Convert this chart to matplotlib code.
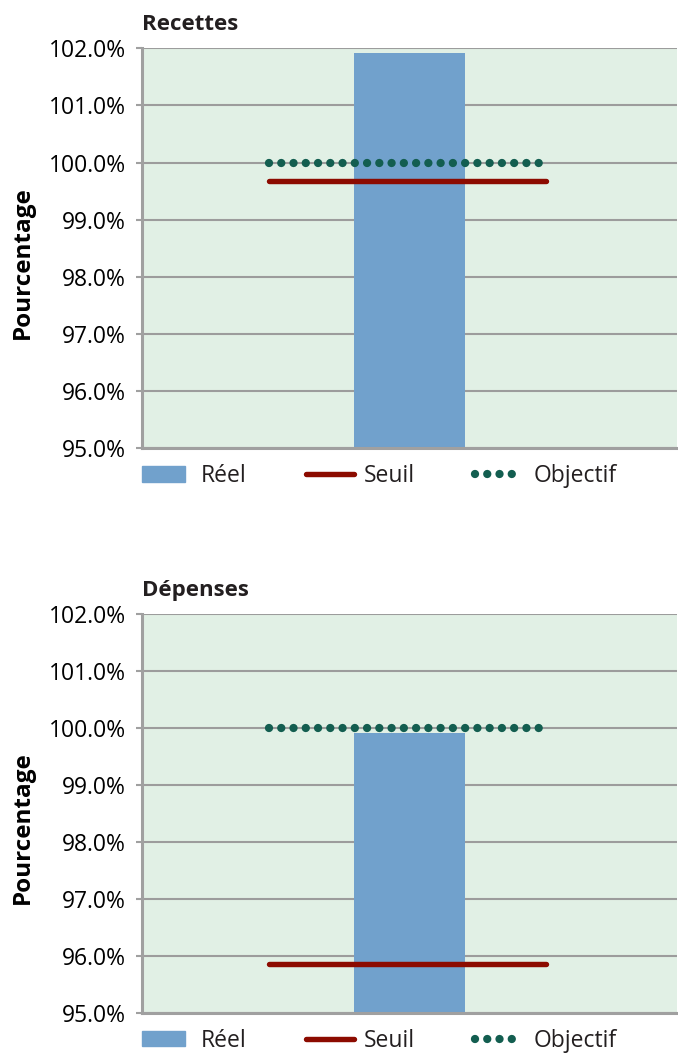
import matplotlib
matplotlib.use('Agg')
import matplotlib.pyplot as plt
import matplotlib.patches as mpatches
from matplotlib.lines import Line2D
from matplotlib.legend_handler import HandlerPatch

# Budget execution rate, in percent
panels = ['Recettes', 'Dépenses']
reel = [101.92, 99.92]
seuil = [99.68, 95.86]
objectif = [100.0, 100.0]

y_ticks = [95, 96, 97, 98, 99, 100, 101, 102]
y_tick_labels = [f"{v:.1f}%" for v in y_ticks]

bar_color = '#71A1CC'
seuil_color = '#8C0B00'
obj_color = '#135E50'
bg_color = '#E1F0E5'
grid_color = '#9C9C9C'

# round dots: near-zero dashes with round caps
dot_style = (0, (0.001, 1.47))

plt.rcParams['font.family'] = ['Open Sans', 'DejaVu Sans']
plt.rcParams['text.color'] = '#231F20'

fig = plt.figure(figsize=(6.78, 10.53), dpi=100)
ax_top = fig.add_axes([0.2094, 0.5745, 0.789, 0.3796])
ax_bot = fig.add_axes([0.2094, 0.0383, 0.789, 0.3783])


def narrow_box(legend, orig_handle, xdescent, ydescent, width, height, fontsize):
    # legend swatch a bit narrower than the line handles
    return mpatches.Rectangle((-xdescent, -ydescent), width * 0.9, height)


for ax, name, r, s, o in zip([ax_top, ax_bot], panels, reel, seuil, objectif):
    ax.set_facecolor(bg_color)
    ax.bar([0], [r - 95], bottom=95, width=0.208, color=bar_color, zorder=2)
    ax.plot([-0.262, 0.246], [o, o], color=obj_color, lw=6.0,
            linestyle=dot_style, dash_capstyle='round', zorder=3)
    ax.plot([-0.262, 0.256], [s, s], color=seuil_color, lw=3.9,
            solid_capstyle='round', zorder=4)

    ax.set_xlim(-0.5, 0.5)
    ax.set_ylim(95, 102)
    ax.set_yticks(y_ticks)
    ax.set_yticklabels(y_tick_labels, fontsize=16.5)
    ax.set_xticks([])
    ax.set_axisbelow(True)
    ax.grid(axis='y', color=grid_color, lw=1.5)
    ax.tick_params(axis='y', length=4.5, width=1.5, color='#A0A0A0', pad=7)

    for side in ['top', 'right']:
        ax.spines[side].set_visible(False)
    for side in ['left', 'bottom']:
        ax.spines[side].set_color('#A0A0A0')
        ax.spines[side].set_linewidth(2.2)

    ax.set_title(name, loc='left', fontsize=16, fontweight='bold', pad=13)
    ax.set_ylabel('Pourcentage', fontsize=17.5, fontweight='bold')
    ax.yaxis.set_label_coords(-0.2, 0.465)

    handles = [
        mpatches.Patch(color=bar_color, label='Réel'),
        Line2D([0], [0], color=seuil_color, lw=3.9, solid_capstyle='round', label='Seuil'),
        Line2D([0], [0], color=obj_color, lw=6.0, linestyle=dot_style,
               dash_capstyle='round', label='Objectif'),
    ]
    ax.legend(handles=handles, ncol=3, loc='center left', bbox_to_anchor=(0.0, -0.07),
              frameon=False, fontsize=16.5, borderpad=0, borderaxespad=0,
              handlelength=2.1, handleheight=0.65, handletextpad=0.45, columnspacing=2.6,
              handler_map={mpatches.Patch: HandlerPatch(patch_func=narrow_box)})

fig.savefig('out.png', dpi=100)
